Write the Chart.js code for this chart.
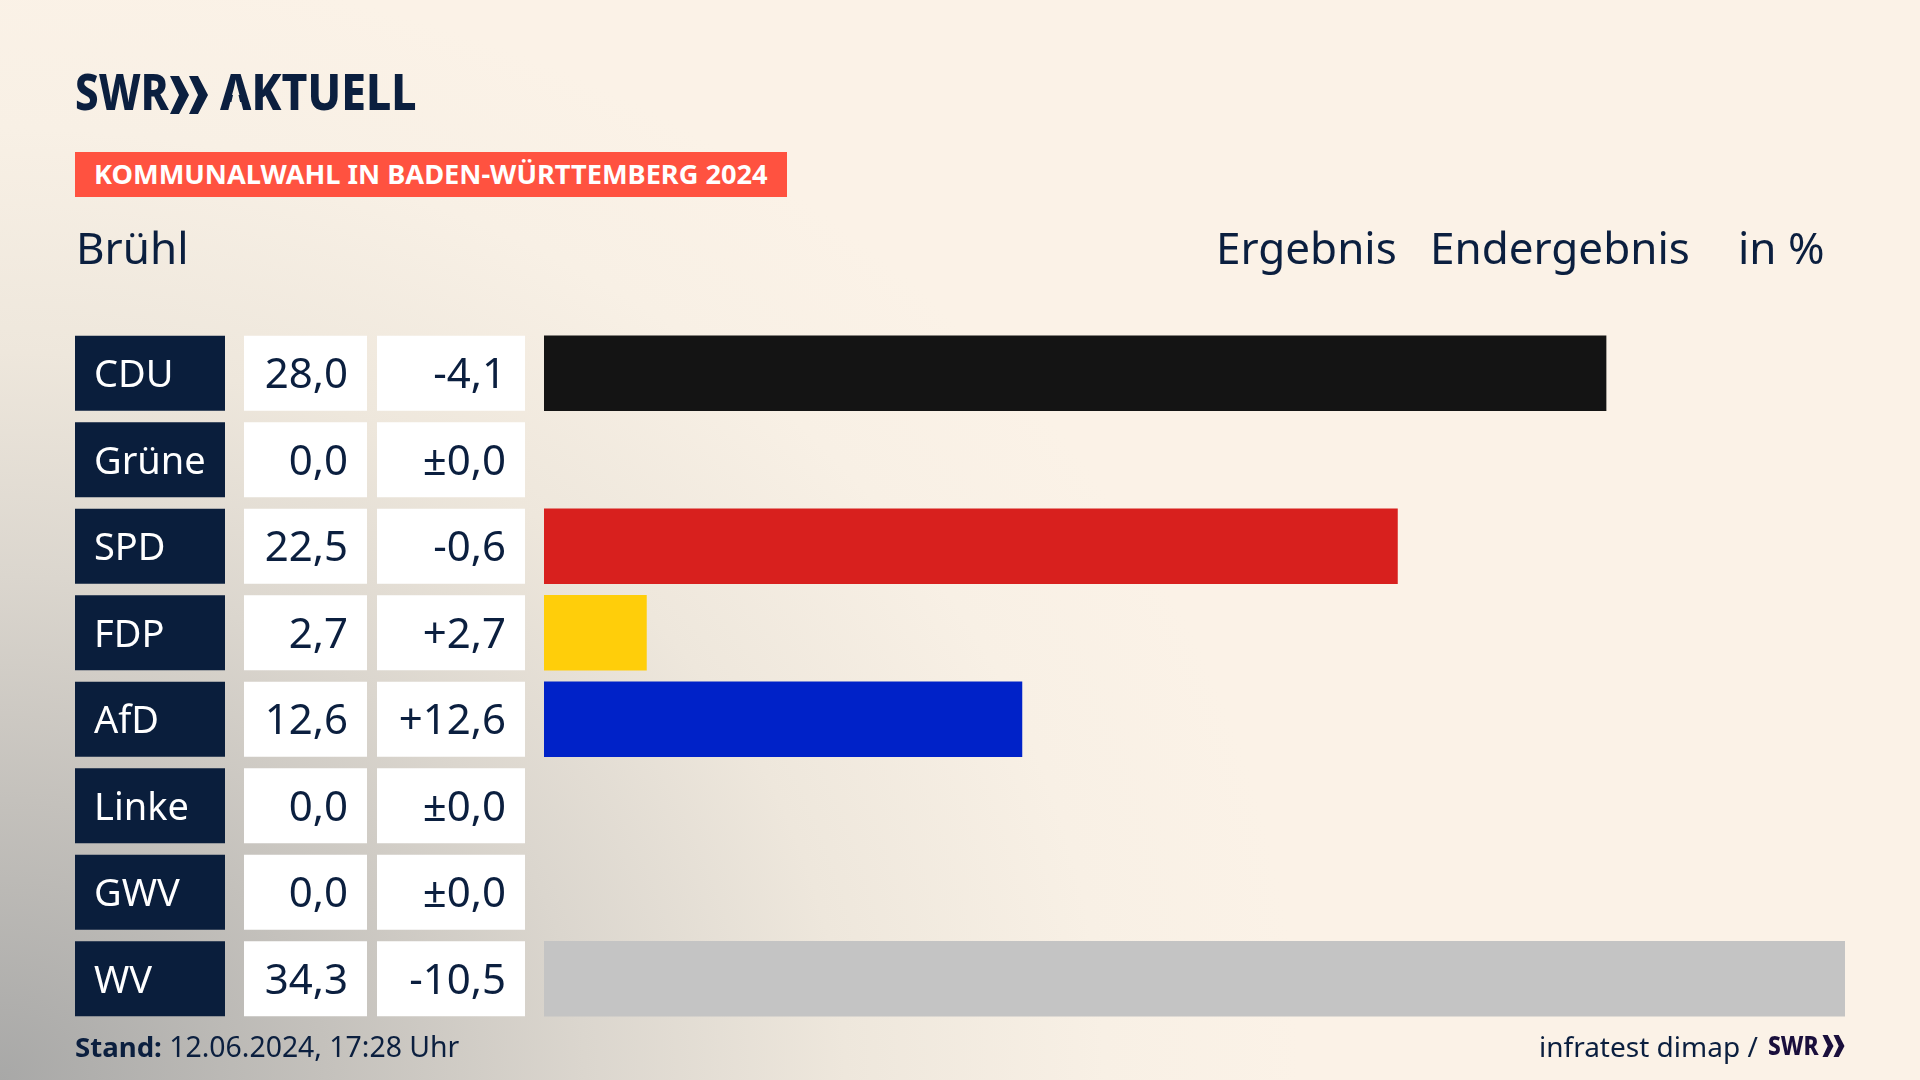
<!DOCTYPE html>
<html lang="de">
<head>
<meta charset="utf-8">
<title>Kommunalwahl Brühl</title>
<script src="https://cdn.jsdelivr.net/npm/chart.js@4"></script>
<style>
    html, body { margin: 0; padding: 0; }
    body {
        position: relative;
        width: 1920px;
        height: 1080px;
        overflow: hidden;
        font-family: "Noto Sans", sans-serif;
        color: #0b1f3f;
        background:
            radial-gradient(ellipse 1300px 1120px at 0 1080px,
                #a8a8a7 0%, #c4c1bc 25%, #dbd6ce 45%, #eee7dc 65%, #f8f0e5 85%, #fbf2e7 100%),
            #fbf2e7;
    }
    canvas { position: absolute; left: 0; top: 0; }
    .txt { position: absolute; white-space: nowrap; transform-origin: left top; line-height: 1; }
    #logo { left: 75px; top: 66px; font-size: 50px; font-weight: 800; }
    #logo .swr { position: absolute; left: 0; top: 0; transform: scaleX(.84); transform-origin: left top; }
    #logo svg { position: absolute; left: 95px; top: 10px; }
    #logo .akt { position: absolute; left: 145px; top: 0; transform: scaleX(.89); transform-origin: left top; }
    #logo .lam { display: inline-block; clip-path: polygon(0 0, 100% 0, 100% 100%, 74% 100%, 50% 34%, 26% 100%, 0 100%); }
    #banner {
        position: absolute; left: 75px; top: 152px; width: 712px; height: 45px;
        background: #ff5240;
    }
    #banner span {
        position: absolute; left: 19px; top: 8px; color: #fff; font-weight: 700; font-size: 27px;
        line-height: 1; white-space: nowrap; transform: scaleX(1.007); transform-origin: left top;
    }
    .head { font-size: 44px; top: 225px; }
    .foot { font-size: 28.4px; top: 1032px; }
    .foot b { font-size: 27.6px; }
</style>
</head>
<body>
<canvas id="resultChart" width="1920" height="1080"></canvas>

<div class="txt" id="logo" style="width:340px;height:50px">
    <span class="swr">SWR</span>
    <svg width="38" height="38" viewBox="0 0 38 38"><path fill="#0b1f3f" d="M0 0h9l10 19-10 19H0l9-19zM19 0h9l10 19-10 19h-9l9-19z"/></svg>
    <span class="akt"><span class="lam">A</span>KTUELL</span>
</div>
<div id="banner"><span>KOMMUNALWAHL IN BADEN-WÜRTTEMBERG 2024</span></div>
<div class="txt head" style="left:76px">Brühl</div>
<div class="txt head" style="left:1216px">Ergebnis</div>
<div class="txt head" style="left:1430px">Endergebnis</div>
<div class="txt head" style="left:1738px">in %</div>
<div class="txt foot" style="left:75px"><b>Stand:</b> 12.06.2024, 17:28 Uhr</div>
<div class="txt foot" style="left:1539px;font-size:28px">infratest dimap /</div>
<div class="txt" style="left:1768px;top:1031px;font-size:27px;font-weight:800;color:#1a0f3c;transform:scaleX(.84)">SWR</div>
<svg style="position:absolute;left:1822px;top:1035px" width="23" height="22" viewBox="0 0 38 38"><path fill="#1a0f3c" d="M0 0h9l10 19-10 19H0l9-19zM19 0h9l10 19-10 19h-9l9-19z"/></svg>

<script>
const PARTIES = ["CDU", "Grüne", "SPD", "FDP", "AfD", "Linke", "GWV", "WV"];
const RESULTS = [28.0, 0.0, 22.5, 2.7, 12.6, 0.0, 0.0, 34.3];
const CHANGES = [-4.1, 0.0, -0.6, 2.7, 12.6, 0.0, 0.0, -10.5];
const COLORS = ["#141414", "transparent", "#d8201e", "#ffce0a", "#0022c8", "transparent", "transparent", "#c4c4c4"];

function formatResult(v) {
    return v.toFixed(1).replace(".", ",");
}

function formatChange(v) {
    const sign = v > 0 ? "+" : (v < 0 ? "-" : "±");
    return sign + Math.abs(v).toFixed(1).replace(".", ",");
}

// the three columns left of the bars, placed on the rows of the y scale
const tableColumns = {
    id: "tableColumns",
    afterDatasetsDraw(chart) {
        const ctx = chart.ctx;
        const y = chart.scales.y;
        const h = 75;

        ctx.save();
        PARTIES.forEach((party, i) => {
            const mid = y.getPixelForValue(i);
            const top = mid - h / 2;

            ctx.fillStyle = "#0a1e3c";
            ctx.fillRect(75, top, 150, h);
            ctx.fillStyle = "#ffffff";
            ctx.fillRect(244, top, 123, h);
            ctx.fillRect(377, top, 148, h);

            ctx.font = "38px 'Noto Sans'";
            ctx.textAlign = "left";
            ctx.fillText(party, 94, mid + 14);

            ctx.font = "42px 'Noto Sans'";
            ctx.textAlign = "right";
            ctx.fillStyle = "#0b1f3f";
            ctx.fillText(formatResult(RESULTS[i]), 348, mid + 15);
            ctx.fillText(formatChange(CHANGES[i]), 506, mid + 15);
        });
        ctx.restore();
    }
};

function renderChart() {
    new Chart(document.getElementById("resultChart"), {
        type: "bar",
        data: {
            labels: PARTIES,
            datasets: [{
                data: RESULTS,
                backgroundColor: COLORS,
                barThickness: 75
            }]
        },
        options: {
            indexAxis: "y",
            responsive: false,
            animation: false,
            devicePixelRatio: 1,
            layout: { padding: { left: 544, right: 75, top: 330, bottom: 58 } },
            plugins: { legend: { display: false }, tooltip: { enabled: false } },
            scales: {
                x: { display: false, min: 0, max: Math.max(...RESULTS) },
                y: { display: false }
            }
        },
        plugins: [tableColumns]
    });
}

renderChart();
</script>
</body>
</html>
